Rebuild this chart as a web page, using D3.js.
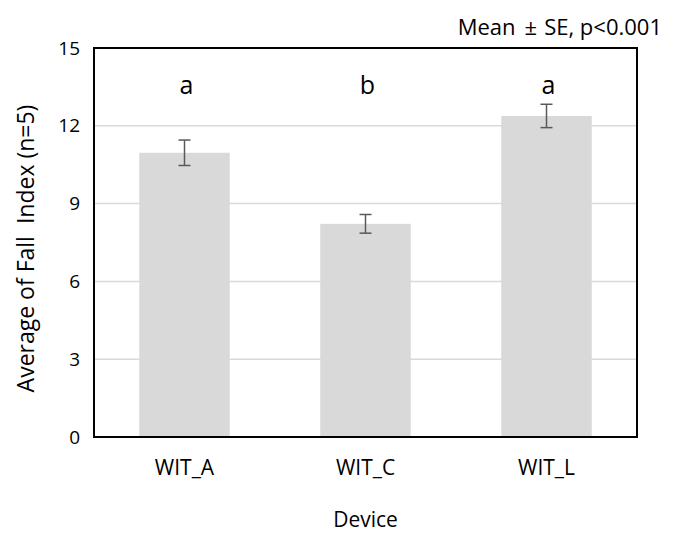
<!DOCTYPE html>
<html>
<head>
<meta charset="utf-8">
<script src="https://cdn.jsdelivr.net/npm/d3@7"></script>
<style>
  body { margin: 0; background: #fff; }
  svg text { font-family: "Open Sans", "Noto Sans", sans-serif; fill: #000; }
</style>
</head>
<body>
<div id="chart"></div>
<script>
// chart data
const devices = ["WIT_A", "WIT_C", "WIT_L"];
const means = [10.96, 8.22, 12.38];
const errors = [0.49, 0.36, 0.45];
const groupLetters = ["a", "b", "a"];
const yTicks = [0, 3, 6, 9, 12, 15];

const width = 682;
const height = 539;
const margin = { top: 48, right: 45, bottom: 102, left: 94 };
const innerW = width - margin.left - margin.right;
const innerH = height - margin.top - margin.bottom;

const svg = d3.select("#chart").append("svg")
    .attr("width", width)
    .attr("height", height);

const g = svg.append("g")
    .attr("transform", `translate(${margin.left},${margin.top})`);

const x = d3.scaleBand()
    .domain(devices)
    .range([0, innerW])
    .paddingInner(0.5)
    .paddingOuter(0.25);

const y = d3.scaleLinear()
    .domain([0, 15])
    .range([innerH, 0]);

// gridlines
g.append("g")
    .selectAll("line")
    .data(yTicks.filter(d => d > 0 && d < 15))
    .join("line")
    .attr("x1", 0)
    .attr("x2", innerW)
    .attr("y1", d => y(d))
    .attr("y2", d => y(d))
    .attr("stroke", "#d9d9d9")
    .attr("stroke-width", 1.5);

// bars
g.append("g")
    .selectAll("rect")
    .data(devices)
    .join("rect")
    .attr("x", d => x(d))
    .attr("y", (d, i) => y(means[i]))
    .attr("width", x.bandwidth())
    .attr("height", (d, i) => innerH - y(means[i]))
    .attr("fill", "#d9d9d9");

// error bars
const capW = 6;
const err = g.append("g")
    .attr("stroke", "#595959")
    .attr("stroke-width", 1.5);

devices.forEach((d, i) => {
    const cx = x(d) + x.bandwidth() / 2;
    const top = y(means[i] + errors[i]);
    const bot = y(means[i] - errors[i]);
    err.append("line").attr("x1", cx).attr("x2", cx).attr("y1", top).attr("y2", bot);
    err.append("line").attr("x1", cx - capW).attr("x2", cx + capW).attr("y1", top).attr("y2", top);
    err.append("line").attr("x1", cx - capW).attr("x2", cx + capW).attr("y1", bot).attr("y2", bot);
});

// significance letters
g.append("g")
    .selectAll("text")
    .data(devices)
    .join("text")
    .attr("x", d => x(d) + x.bandwidth() / 2 + 2)
    .attr("y", 46)
    .attr("text-anchor", "middle")
    .style("font-size", "25px")
    .text((d, i) => groupLetters[i]);

// frame
g.append("rect")
    .attr("width", innerW)
    .attr("height", innerH)
    .attr("fill", "none")
    .attr("stroke", "#000")
    .attr("stroke-width", 2);

// y axis
const yAxis = g.append("g")
    .call(d3.axisLeft(y).tickValues(yTicks).tickSize(0).tickPadding(14));
yAxis.select(".domain").remove();
yAxis.selectAll("text")
    .style("font-size", "19px")
    .style("font-family", "'Open Sans', sans-serif");

// x axis
const xAxis = g.append("g")
    .attr("transform", `translate(0,${innerH})`)
    .call(d3.axisBottom(x).tickSize(0).tickPadding(23));
xAxis.select(".domain").remove();
xAxis.selectAll("text")
    .style("font-size", "21px")
    .style("font-family", "'Open Sans', sans-serif");

// axis titles
svg.append("text")
    .attr("x", margin.left + innerW / 2)
    .attr("y", 527)
    .attr("text-anchor", "middle")
    .style("font-size", "21px")
    .text("Device");

svg.append("text")
    .attr("transform", `translate(34,${margin.top + innerH / 2 + 6}) rotate(-90)`)
    .attr("text-anchor", "middle")
    .style("font-size", "23px")
    .style("white-space", "pre")
    .attr("xml:space", "preserve")
    .text("Average of Fall  Index (n=5)");

// note
const note = svg.append("text")
    .attr("x", 662)
    .attr("y", 35)
    .attr("text-anchor", "end")
    .style("font-size", "22px");
note.append("tspan").text("Mean");
note.append("tspan").attr("dx", 9).text("±");
note.append("tspan").attr("dx", 7).text("SE, p<0.001");
</script>
</body>
</html>
